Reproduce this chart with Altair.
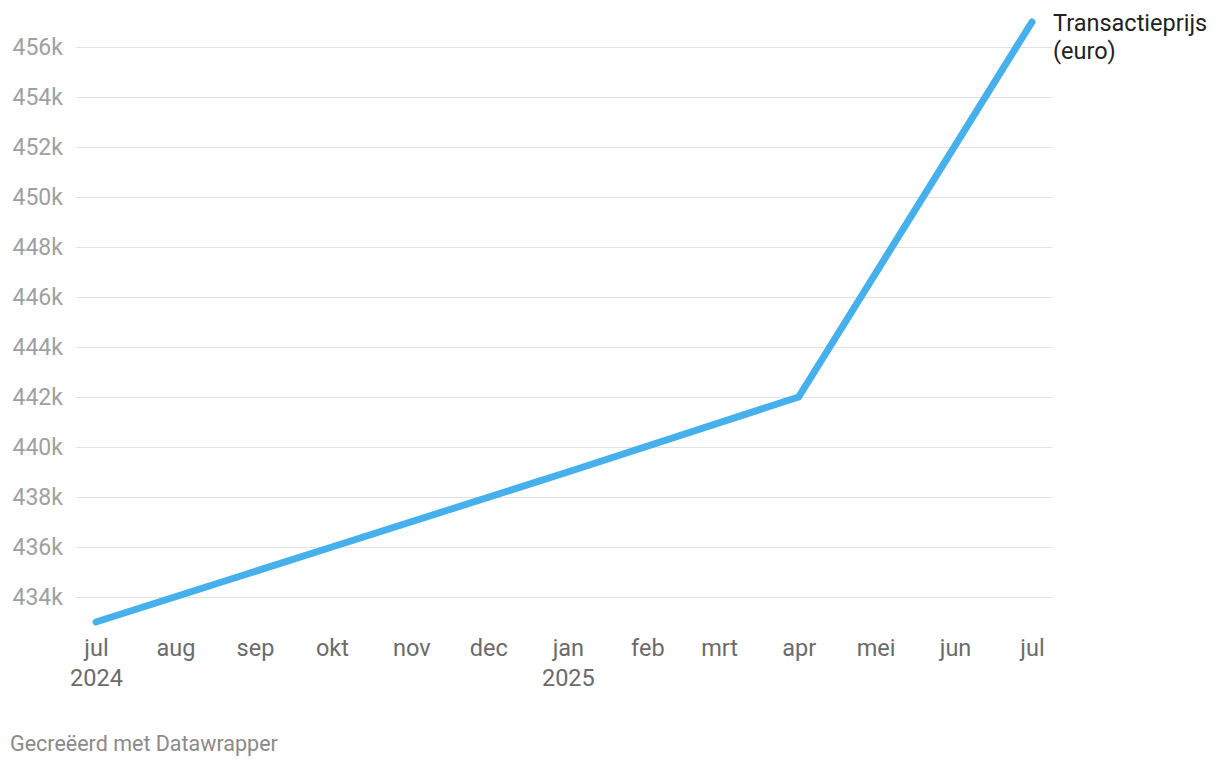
import altair as alt
import pandas as pd

dates = ["2024-07-01", "2024-10-01", "2025-01-01", "2025-04-01", "2025-07-01"]
prices = [433000, 436000, 439000, 442000, 457000]
tick_months = ["2024-07-01", "2024-08-01", "2024-09-01", "2024-10-01", "2024-11-01", "2024-12-01",
               "2025-01-01", "2025-02-01", "2025-03-01", "2025-04-01", "2025-05-01", "2025-06-01",
               "2025-07-01"]
month_names = ["jan", "feb", "mrt", "apr", "mei", "jun", "jul", "aug", "sep", "okt", "nov", "dec"]
y_ticks = [434000, 436000, 438000, 440000, 442000, 444000, 446000, 448000, 450000, 452000, 454000, 456000]
series_label = ["Transactieprijs", "(euro)"]
footer = "Gecreëerd met Datawrapper"

df = pd.DataFrame({"date": dates, "price": prices})
last = df.tail(1).copy()
last["label"] = [series_label]

names_js = "[" + ",".join("'%s'" % m for m in month_names) + "]"
x_label_expr = (
    f"[{names_js}[utcmonth(datum.value)], "
    "(utcmonth(datum.value) == 0 || (utcmonth(datum.value) == 6 && utcyear(datum.value) == 2024)) "
    "? '' + utcyear(datum.value) : '']"
)

x_values = [alt.DateTime(year=int(d[:4]), month=int(d[5:7]), date=1, utc=True) for d in tick_months]

x_enc = alt.X(
    "date:T",
    scale=alt.Scale(type="utc", nice=False, padding=20),
    axis=alt.Axis(
        values=x_values, labelExpr=x_label_expr, title=None, grid=False, domain=False,
        ticks=False, tickSize=0, labelPadding=14, labelFont="Roboto", labelFontSize=23.5,
        labelColor="#6b6b6b", labelLineHeight=30, labelBaseline="top", labelAlign="center",
    ),
)
y_enc = alt.Y(
    "price:Q",
    scale=alt.Scale(domain=[433000, 457000], nice=False, zero=False),
    axis=alt.Axis(
        values=y_ticks, labelExpr="datum.value / 1000 + 'k'", title=None, grid=True,
        gridColor="#e1e1e1", gridWidth=1, domain=False, ticks=False, tickSize=0,
        labelAlign="left", labelPadding=64, labelFont="Roboto", labelFontSize=23,
        labelColor="#a0a0a0", labelBaseline="middle",
    ),
)

line = alt.Chart(df).mark_line(
    color="#45b0ec", strokeWidth=7, strokeCap="round", strokeJoin="round"
).encode(x=x_enc, y=y_enc)

label = alt.Chart(last).mark_text(
    align="left", baseline="top", dx=21, dy=-10, font="Roboto", fontSize=23.5,
    color="#222222", lineHeight=28
).encode(x="date:T", y="price:Q", text="label")

foot = alt.Chart(df.head(1)).mark_text(
    align="left", baseline="middle", font="Roboto", fontSize=21.5, color="#8a8a8a", text=footer
).encode(x=alt.value(-66), y=alt.value(723))

chart = alt.layer(line, label, foot).properties(
    width=976, height=600,
    background="white",
    autosize=alt.AutoSizeParams(type="none"),
    padding={"left": 68, "top": 14, "right": 160, "bottom": 140},
).configure_view(stroke=None)

chart.save("out.html", embed_options={"renderer": "svg", "actions": False})
